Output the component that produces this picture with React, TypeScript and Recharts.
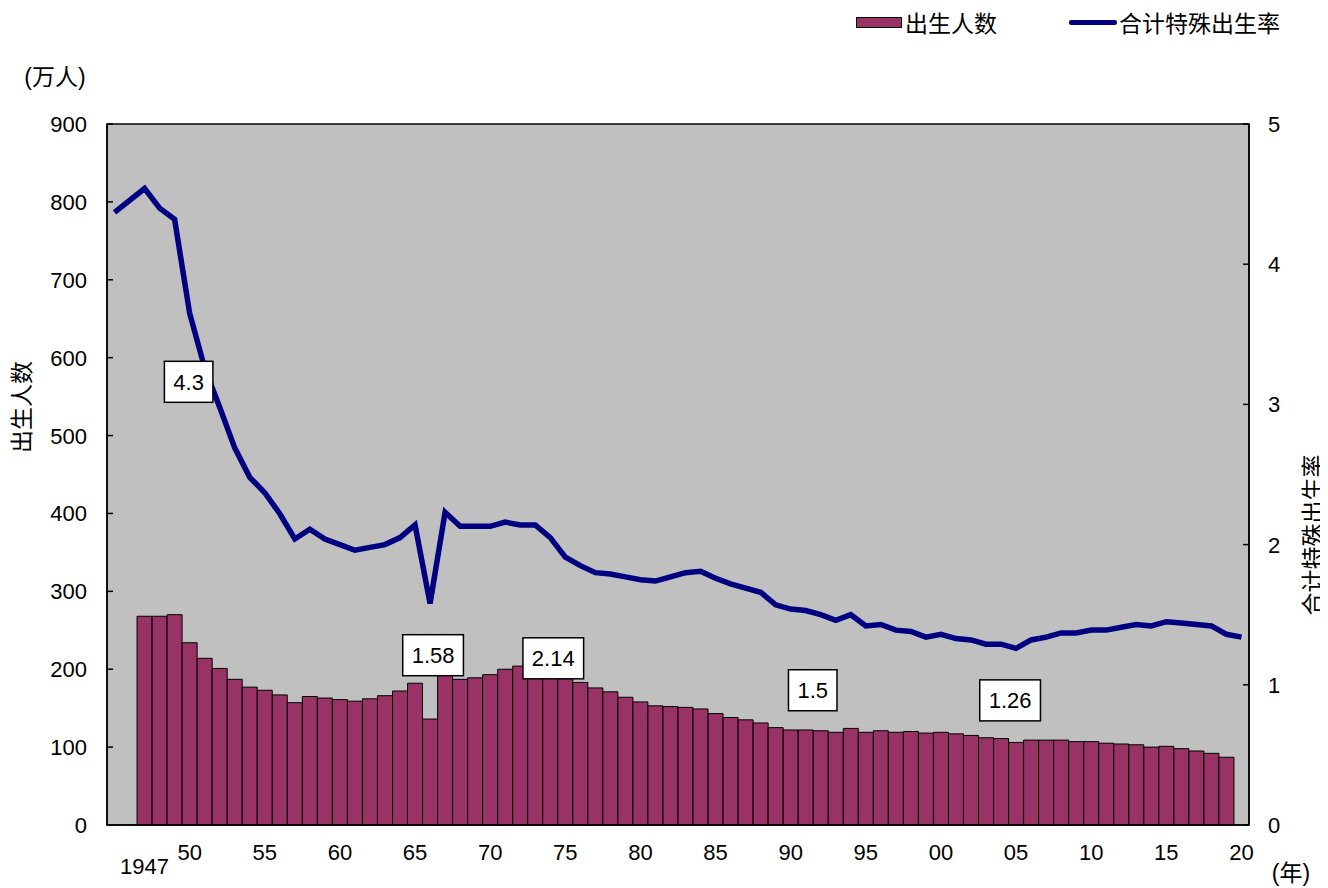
import {
  ComposedChart,
  Bar,
  Line,
  XAxis,
  YAxis,
  CartesianGrid,
  ReferenceArea,
  ReferenceDot,
  Legend,
  Customized,
} from "recharts";

// categories (year), 1945..2020
const years = [
  1945, 1946, 1947, 1948, 1949, 1950, 1951, 1952, 1953, 1954,
  1955, 1956, 1957, 1958, 1959, 1960, 1961, 1962, 1963, 1964,
  1965, 1966, 1967, 1968, 1969, 1970, 1971, 1972, 1973, 1974,
  1975, 1976, 1977, 1978, 1979, 1980, 1981, 1982, 1983, 1984,
  1985, 1986, 1987, 1988, 1989, 1990, 1991, 1992, 1993, 1994,
  1995, 1996, 1997, 1998, 1999, 2000, 2001, 2002, 2003, 2004,
  2005, 2006, 2007, 2008, 2009, 2010, 2011, 2012, 2013, 2014,
  2015, 2016, 2017, 2018, 2019, 2020,
];

// 出生人数 (万人)
const births = [
  null, null,
  268, 268, 270, 234, 214, 201, 187, 177, 173, 167,
  157, 165, 163, 161, 159, 162, 166, 172, 182, 136,
  194, 187, 189, 193, 200, 204, 209, 203, 190, 183,
  176, 171, 164, 158, 153, 152, 151, 149, 143, 138,
  135, 131, 125, 122, 122, 121, 119, 124, 119, 121,
  119, 120, 118, 119, 117, 115, 112, 111, 106, 109,
  109, 109, 107, 107, 105, 104, 103, 100, 101, 98,
  95, 92, 87,
  null,
];

// 合计特殊出生率
const tfr = [
  4.37, null,
  4.54, 4.4, 4.32, 3.65, 3.26, 2.98, 2.69, 2.48, 2.37, 2.22,
  2.04, 2.11, 2.04, 2.0, 1.96, 1.98, 2.0, 2.05, 2.14, 1.58,
  2.23, 2.13, 2.13, 2.13, 2.16, 2.14, 2.14, 2.05, 1.91, 1.85,
  1.8, 1.79, 1.77, 1.75, 1.74, 1.77, 1.8, 1.81, 1.76, 1.72,
  1.69, 1.66, 1.57, 1.54, 1.53, 1.5, 1.46, 1.5, 1.42, 1.43,
  1.39, 1.38, 1.34, 1.36, 1.33, 1.32, 1.29, 1.29, 1.26, 1.32,
  1.34, 1.37, 1.37, 1.39, 1.39, 1.41, 1.43, 1.42, 1.45, 1.44,
  1.43, 1.42, 1.36, 1.34,
];

const xTickYears = [1947, 1950, 1955, 1960, 1965, 1970, 1975, 1980, 1985, 1990, 1995, 2000, 2005, 2010, 2015, 2020];
const xTickLabels = ["1947", "50", "55", "60", "65", "70", "75", "80", "85", "90", "95", "00", "05", "10", "15", "20"];
const leftTicks = [0, 100, 200, 300, 400, 500, 600, 700, 800, 900];
const rightTicks = [0, 1, 2, 3, 4, 5];

// boxed notes: text, year it sits over, height on the left axis
const noteTexts = ["4.3", "1.58", "2.14", "1.5", "1.26"];
const noteYears = [1950, 1966, 1974, 1991, 2005];
const noteValues = [569, 218, 214, 173, 160];
const noteShift = [-1, 3, 3, 7, -6];

const data = years.map((year, i) => ({
  year,
  births: births[i],
  tfr: tfr[i],
}));

const FONT = '"Liberation Sans", "Noto Sans CJK SC", sans-serif';
const BAR_COLOR = "#993366";
const LINE_COLOR = "#000080";

const LeftTick = ({ x, y, payload }: any) => (
  <g>
    <line x1={x} x2={x + 6} y1={y} y2={y} stroke="#000" strokeWidth={1.5} />
    <text x={x - 20} y={y + 8} textAnchor="end" fontSize={22} fill="#000">
      {payload.value}
    </text>
  </g>
);

const RightTick = ({ x, y, payload }: any) => (
  <g>
    <line x1={x - 6} x2={x} y1={y} y2={y} stroke="#000" strokeWidth={1.5} />
    <text x={x + 19} y={y + 8} textAnchor="start" fontSize={22} fill="#000">
      {payload.value}
    </text>
  </g>
);

const YearTick = ({ x, y, payload }: any) => {
  const idx = xTickYears.indexOf(payload.value);
  if (idx < 0) return null;
  const first = idx === 0;
  return (
    <text
      x={x}
      y={y + (first ? 49 : 35)}
      textAnchor="middle"
      fontSize={22}
      fill="#000"
    >
      {xTickLabels[idx]}
    </text>
  );
};

const noteBox = (text: string, shift: number) => (props: any) => {
  const { cx, cy } = props;
  let w = 18;
  for (const ch of text) w += ch === "." ? 6.1 : 12.2;
  const h = 41;
  const x = cx + shift;
  return (
    <g>
      <rect x={x - w / 2} y={cy - h / 2} width={w} height={h} fill="#fff" stroke="#000" strokeWidth={1.5} />
      <text x={x} y={cy + 8} textAnchor="middle" fontSize={22} fill="#000">
        {text}
      </text>
    </g>
  );
};

const LegendContent = () => (
  <div
    style={{
      display: "flex",
      alignItems: "center",
      fontSize: 23,
      height: 28,
      whiteSpace: "nowrap",
      fontFamily: FONT,
      color: "#000",
    }}
  >
    <span
      style={{
        display: "inline-block",
        width: 44,
        height: 9,
        background: BAR_COLOR,
        border: "1px solid #000",
        marginRight: 3,
      }}
    />
    <span>出生人数</span>
    <span
      style={{
        display: "inline-block",
        width: 48,
        height: 5,
        background: LINE_COLOR,
        borderRadius: 2,
        marginLeft: 72,
        marginRight: 2,
      }}
    />
    <span>合计特殊出生率</span>
  </div>
);

const Titles = () => (
  <g fontSize={23} fill="#000" style={{ fontFamily: FONT }}>
    <text x={47} y={69} textAnchor="middle" dominantBaseline="central">
      (万人)
    </text>
    <text x={1283} y={865} textAnchor="middle" dominantBaseline="central">
      (年)
    </text>
    <text
      x={14}
      y={399}
      textAnchor="middle"
      dominantBaseline="central"
      transform="rotate(-90 14 399)"
    >
      出生人数
    </text>
    <text
      x={1305}
      y={527}
      textAnchor="middle"
      dominantBaseline="central"
      transform="rotate(-90 1305 527)"
    >
      合计特殊出生率
    </text>
  </g>
);

export default function App() {
  return (
    <div style={{ fontFamily: FONT }}>
      <ComposedChart
        width={1320}
        height={880}
        data={data}
        margin={{ top: 116, right: 0, bottom: 0, left: 0 }}
        barCategoryGap={0}
        barGap={0}
        style={{ fontFamily: FONT }}
      >
        <CartesianGrid
          horizontal={false}
          vertical={false}
          fill="#C0C0C0"
          fillOpacity={1}
          yAxisId="left"
        />
        <XAxis
          dataKey="year"
          type="category"
          interval={0}
          height={63}
          tickSize={0}
          tickMargin={0}
          tick={<YearTick />}
          axisLine={{ stroke: "#000", strokeWidth: 1.5 }}
          tickLine={false}
        />
        <YAxis
          yAxisId="left"
          orientation="left"
          width={99}
          domain={[0, 900]}
          ticks={leftTicks}
          tickSize={0}
          tickMargin={0}
          tick={<LeftTick />}
          axisLine={{ stroke: "#000", strokeWidth: 1.5 }}
          tickLine={false}
          interval={0}
        />
        <YAxis
          yAxisId="right"
          orientation="right"
          width={79}
          domain={[0, 5]}
          ticks={rightTicks}
          tickSize={0}
          tickMargin={0}
          tick={<RightTick />}
          axisLine={{ stroke: "#000", strokeWidth: 1.5 }}
          tickLine={false}
          interval={0}
        />
        <ReferenceArea
          yAxisId="left"
          y1={0}
          y2={900}
          fill="none"
          stroke="#000"
          strokeWidth={1.5}
          ifOverflow="visible"
        />
        <Bar
          yAxisId="left"
          dataKey="births"
          fill={BAR_COLOR}
          stroke="#000"
          strokeWidth={1}
          isAnimationActive={false}
        />
        <Line
          yAxisId="right"
          dataKey="tfr"
          stroke={LINE_COLOR}
          strokeWidth={5.5}
          dot={false}
          activeDot={false}
          connectNulls
          isAnimationActive={false}
        />
        {noteTexts.map((t, i) => (
          <ReferenceDot
            key={t}
            yAxisId="left"
            x={noteYears[i]}
            y={noteValues[i]}
            shape={noteBox(t, noteShift[i])}
            ifOverflow="visible"
          />
        ))}
        <Legend
          layout="horizontal"
          verticalAlign="middle"
          align="center"
          content={<LegendContent />}
          wrapperStyle={{ top: 0, left: 848, width: "auto", height: 28 }}
        />
        <Customized component={<Titles />} />
      </ComposedChart>
    </div>
  );
}
